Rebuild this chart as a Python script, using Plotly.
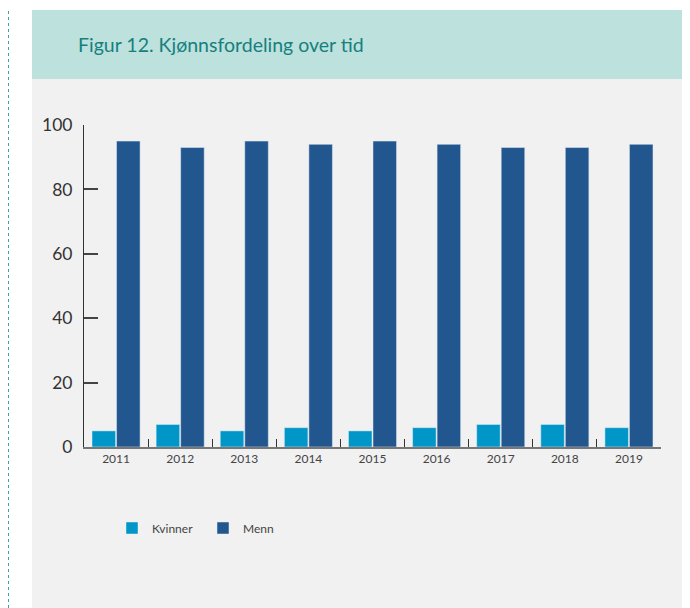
import plotly.graph_objects as go

# Andel (%) kvinner og menn per år
years = ["2011", "2012", "2013", "2014", "2015", "2016", "2017", "2018", "2019"]
kvinner = [5, 7, 5, 6, 5, 6, 7, 7, 6]
menn = [95, 93, 95, 94, 95, 94, 93, 93, 94]
y_ticks = [0, 20, 40, 60, 80, 100]

# the page puts an 8px body margin round the figure
OFF = 8
W, H = 690 - OFF, 608 - OFF
L, R, T, B = 84, 661, 125, 447  # plot area, in screen pixels


def px(x):
    return (x - L) / (R - L)


def py(y):
    return (B - y) / (B - T)


fig = go.Figure()
fig.add_trace(go.Bar(x=years, y=kvinner, name="Kvinner", marker=dict(color="#0096c8")))
fig.add_trace(go.Bar(x=years, y=menn, name="Menn", marker=dict(color="#22568f")))

# teal header and grey panel behind the chart, dotted rule on the left
fig.add_shape(type="rect", xref="paper", yref="paper", layer="below",
              x0=px(32), x1=px(682), y0=py(620), y1=py(79),
              fillcolor="#f1f1f1", line_width=0)
fig.add_shape(type="rect", xref="paper", yref="paper", layer="below",
              x0=px(32), x1=px(682), y0=py(79), y1=py(10),
              fillcolor="#bde1dd", line_width=0)
fig.add_shape(type="line", xref="paper", yref="paper", layer="below",
              x0=px(8.5), x1=px(8.5), y0=py(620), y1=py(0),
              line=dict(color="#3aa3a6", width=1, dash="dot"))

fig.add_annotation(text="Figur 12. Kjønnsfordeling over tid", xref="paper", yref="paper",
                   x=px(76), y=py(45), xanchor="left", yanchor="middle", showarrow=False,
                   font=dict(family="Lato", size=19.5, color="#16807d"))

fig.update_layout(
    width=W, height=H,
    margin=dict(l=L - OFF, r=690 - R, t=T - OFF, b=608 - B),
    paper_bgcolor="white",
    plot_bgcolor="rgba(0,0,0,0)",
    barmode="group",
    bargap=0.235,
    bargroupgap=0.04,
    font=dict(family="Lato", color="#333"),
    showlegend=True,
    legend=dict(orientation="h", x=px(112), y=py(528), xanchor="left", yanchor="middle",
                font=dict(size=12, color="#444"), bgcolor="rgba(0,0,0,0)",
                entrywidth=46, traceorder="normal"),
    xaxis=dict(
        type="category", showgrid=False, showline=True, linecolor="#777", linewidth=2,
        ticks="inside", tickson="boundaries", ticklen=8, tickcolor="#333", tickwidth=1,
        tickfont=dict(size=12, color="#444"), fixedrange=True,
    ),
    yaxis=dict(
        range=[0, 100], tickvals=y_ticks, showgrid=False, zeroline=False,
        showline=True, linecolor="#333", linewidth=1,
        ticks="inside", ticklen=14, tickcolor="#444", tickwidth=1.5,
        tickfont=dict(size=17.5, color="#333"), ticklabelstandoff=7,
    ),
)

fig.write_html("out.html")
